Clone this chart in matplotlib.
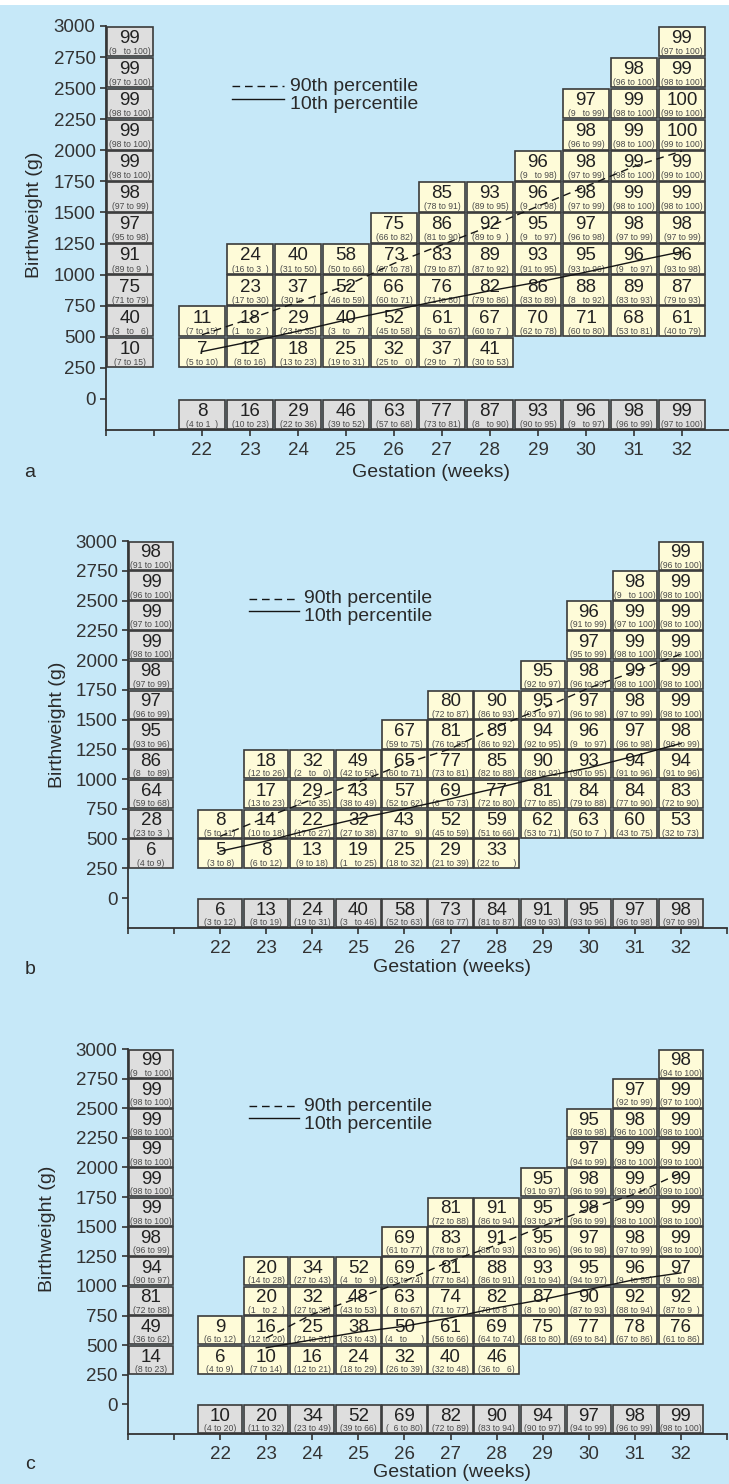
import numpy as np
import matplotlib
matplotlib.use('Agg')
import matplotlib.pyplot as plt
from matplotlib.patches import Rectangle

plt.rcParams.update({
    'font.family': ['Liberation Sans', 'DejaVu Sans'],
    'text.color': '#2a2a2a',
    'axes.edgecolor': '#333333',
    'xtick.color': '#333333',
    'ytick.color': '#333333',
})

# --- Colors ---
BG = '#c6e8f8'
CELL_YELLOW = '#fefbd8'
CELL_GREY = '#dedede'
EDGE = '#3a3a3a'
CI_COLOR = '#4a4a4a'

# --- Shared axes data ---
WEEKS = list(range(22, 33))
BW_ROWS = [250, 500, 750, 1000, 1250, 1500, 1750, 2000, 2250, 2500, 2750]
GRID_START = [250, 250, 250, 250, 250, 250, 250, 500, 500, 500, 500]
Y_TICKS = list(range(0, 3001, 250))

# --- Panel a ---
A_BW_VALS = [10, 40, 75, 91, 97, 98, 99, 99, 99, 99, 99]
A_BW_CI = ['(7 to 15)', '(3   to   6)', '(71 to 79)', '(89 to 9  )', '(95 to 98)', '(97 to 99)',
           '(98 to 100)', '(98 to 100)', '(98 to 100)', '(97 to 100)', '(9   to 100)']
A_GA_VALS = [8, 16, 29, 46, 63, 77, 87, 93, 96, 98, 99]
A_GA_CI = ['(4 to 1  )', '(10 to 23)', '(22 to 36)', '(39 to 52)', '(57 to 68)', '(73 to 81)',
           '(8   to 90)', '(90 to 95)', '(9   to 97)', '(96 to 99)', '(97 to 100)']
A_GRID_VALS = [
    [7, 11],
    [12, 18, 23, 24],
    [18, 29, 37, 40],
    [25, 40, 52, 58],
    [32, 52, 66, 73, 75],
    [37, 61, 76, 83, 86, 85],
    [41, 67, 82, 89, 92, 93],
    [70, 86, 93, 95, 96, 96],
    [71, 88, 95, 97, 98, 98, 98, 97],
    [68, 89, 96, 98, 99, 99, 99, 99, 98],
    [61, 87, 96, 98, 99, 99, 100, 100, 99, 99],
]
A_GRID_CI = [
    ['(5 to 10)', '(7 to 15)'],
    ['(8 to 16)', '(1   to 2  )', '(17 to 30)', '(16 to 3  )'],
    ['(13 to 23)', '(23 to 35)', '(30 to    )', '(31 to 50)'],
    ['(19 to 31)', '(3   to   7)', '(46 to 59)', '(50 to 66)'],
    ['(25 to   0)', '(45 to 58)', '(60 to 71)', '(67 to 78)', '(66 to 82)'],
    ['(29 to   7)', '(5   to 67)', '(71 to 80)', '(79 to 87)', '(81 to 90)', '(78 to 91)'],
    ['(30 to 53)', '(60 to 7  )', '(79 to 86)', '(87 to 92)', '(89 to 9  )', '(89 to 95)'],
    ['(62 to 78)', '(83 to 89)', '(91 to 95)', '(9   to 97)', '(9   to 98)', '(9   to 98)'],
    ['(60 to 80)', '(8   to 92)', '(93 to 96)', '(96 to 98)', '(97 to 99)', '(97 to 99)',
     '(96 to 99)', '(9   to 99)'],
    ['(53 to 81)', '(83 to 93)', '(9   to 97)', '(97 to 99)', '(98 to 100)', '(98 to 100)',
     '(98 to 100)', '(98 to 100)', '(96 to 100)'],
    ['(40 to 79)', '(79 to 93)', '(93 to 98)', '(97 to 99)', '(98 to 100)', '(99 to 100)',
     '(99 to 100)', '(99 to 100)', '(98 to 100)', '(97 to 100)'],
]
A_P10 = [381, 460, 545, 635, 715, 795, 870, 940, 1020, 1105, 1185]
A_P90 = [516, 645, 780, 910, 1090, 1240, 1390, 1550, 1710, 1870, 1995]

# --- Panel b ---
B_BW_VALS = [6, 28, 64, 86, 95, 97, 98, 99, 99, 99, 98]
B_BW_CI = ['(4 to 9)', '(23 to 3  )', '(59 to 68)', '(8   to 89)', '(93 to 96)', '(96 to 99)',
           '(97 to 99)', '(98 to 100)', '(97 to 100)', '(96 to 100)', '(91 to 100)']
B_GA_VALS = [6, 13, 24, 40, 58, 73, 84, 91, 95, 97, 98]
B_GA_CI = ['(3 to 12)', '(8 to 19)', '(19 to 31)', '(3   to 46)', '(52 to 63)', '(68 to 77)',
           '(81 to 87)', '(89 to 93)', '(93 to 96)', '(96 to 98)', '(97 to 99)']
B_GRID_VALS = [
    [5, 8],
    [8, 14, 17, 18],
    [13, 22, 29, 32],
    [19, 32, 43, 49],
    [25, 43, 57, 65, 67],
    [29, 52, 69, 77, 81, 80],
    [33, 59, 77, 85, 89, 90],
    [62, 81, 90, 94, 95, 95],
    [63, 84, 93, 96, 97, 98, 97, 96],
    [60, 84, 94, 97, 98, 99, 99, 99, 98],
    [53, 83, 94, 98, 99, 99, 99, 99, 99, 99],
]
B_GRID_CI = [
    ['(3 to 8)', '(5 to 11)'],
    ['(6 to 12)', '(10 to 18)', '(13 to 23)', '(12 to 26)'],
    ['(9 to 18)', '(17 to 27)', '(2   to 35)', '(2   to   0)'],
    ['(1   to 25)', '(27 to 38)', '(38 to 49)', '(42 to 56)'],
    ['(18 to 32)', '(37 to   9)', '(52 to 62)', '(60 to 71)', '(59 to 75)'],
    ['(21 to 39)', '(45 to 59)', '(6   to 73)', '(73 to 81)', '(76 to 85)', '(72 to 87)'],
    ['(22 to      )', '(51 to 66)', '(72 to 80)', '(82 to 88)', '(86 to 92)', '(86 to 93)'],
    ['(53 to 71)', '(77 to 85)', '(88 to 92)', '(92 to 95)', '(93 to 97)', '(92 to 97)'],
    ['(50 to 7  )', '(79 to 88)', '(90 to 95)', '(9   to 97)', '(96 to 98)', '(96 to 99)',
     '(95 to 99)', '(91 to 99)'],
    ['(43 to 75)', '(77 to 90)', '(91 to 96)', '(96 to 98)', '(97 to 99)', '(98 to 100)',
     '(98 to 100)', '(97 to 100)', '(9   to 100)'],
    ['(32 to 73)', '(72 to 90)', '(91 to 96)', '(96 to 99)', '(98 to 100)', '(98 to 100)',
     '(99 to 100)', '(98 to 100)', '(98 to 100)', '(96 to 100)'],
]
B_P10 = [395, 480, 580, 670, 750, 835, 925, 1020, 1095, 1195, 1300]
B_P90 = [520, 680, 830, 975, 1130, 1255, 1440, 1595, 1765, 1905, 2050]

# --- Panel c ---
C_BW_VALS = [14, 49, 81, 94, 98, 99, 99, 99, 99, 99, 99]
C_BW_CI = ['(8 to 23)', '(36 to 62)', '(72 to 88)', '(90 to 97)', '(96 to 99)', '(98 to 100)',
           '(98 to 100)', '(98 to 100)', '(98 to 100)', '(98 to 100)', '(9   to 100)']
C_GA_VALS = [10, 20, 34, 52, 69, 82, 90, 94, 97, 98, 99]
C_GA_CI = ['(4 to 20)', '(11 to 32)', '(23 to 49)', '(39 to 66)', '(  6 to 80)', '(72 to 89)',
           '(83 to 94)', '(90 to 97)', '(94 to 99)', '(96 to 99)', '(98 to 100)']
C_GRID_VALS = [
    [6, 9],
    [10, 16, 20, 20],
    [16, 25, 32, 34],
    [24, 38, 48, 52],
    [32, 50, 63, 69, 69],
    [40, 61, 74, 81, 83, 81],
    [46, 69, 82, 88, 91, 91],
    [75, 87, 93, 95, 95, 95],
    [77, 90, 95, 97, 98, 98, 97, 95],
    [78, 92, 96, 98, 99, 99, 99, 98, 97],
    [76, 92, 97, 99, 99, 99, 99, 99, 99, 98],
]
C_GRID_CI = [
    ['(4 to 9)', '(6 to 12)'],
    ['(7 to 14)', '(12 to 20)', '(1   to 2  )', '(14 to 28)'],
    ['(12 to 21)', '(21 to 31)', '(27 to 38)', '(27 to 43)'],
    ['(18 to 29)', '(33 to 43)', '(43 to 53)', '(4   to   9)'],
    ['(26 to 39)', '(4   to      )', '(  8 to 67)', '(63 to 74)', '(61 to 77)'],
    ['(32 to 48)', '(56 to 66)', '(71 to 77)', '(77 to 84)', '(78 to 87)', '(72 to 88)'],
    ['(36 to   6)', '(64 to 74)', '(78 to 8  )', '(86 to 91)', '(88 to 93)', '(86 to 94)'],
    ['(68 to 80)', '(8   to 90)', '(91 to 94)', '(93 to 96)', '(93 to 97)', '(91 to 97)'],
    ['(69 to 84)', '(87 to 93)', '(94 to 97)', '(96 to 98)', '(96 to 99)', '(96 to 99)',
     '(94 to 99)', '(89 to 98)'],
    ['(67 to 86)', '(88 to 94)', '(9   to 98)', '(97 to 99)', '(98 to 100)', '(98 to 100)',
     '(98 to 100)', '(96 to 100)', '(92 to 99)'],
    ['(61 to 86)', '(87 to 9  )', '(9   to 98)', '(98 to 100)', '(98 to 100)', '(99 to 100)',
     '(99 to 100)', '(98 to 100)', '(97 to 100)', '(94 to 100)'],
]
C_P10 = [np.nan, 478, 545, 610, 660, 731, 815, 885, 970, 1054, 1110]
C_P90 = [np.nan, 560, 760, 900, 1040, 1210, 1345, 1505, 1650, 1775, 1955]


def draw_cell(ax, x_left, y_low, val, ci, face):
    """One box: big number on top, confidence interval underneath."""
    ax.add_patch(Rectangle((x_left + 0.02, y_low + 6), 0.96, 238,
                           facecolor=face, edgecolor=EDGE, linewidth=1.2, zorder=2))
    ax.text(x_left + 0.5, y_low + 150, str(val), ha='center', va='center',
            fontsize=13.5, color='#222222', zorder=3)
    ax.text(x_left + 0.5, y_low + 45, ci, ha='center', va='center',
            fontsize=6.2, color=CI_COLOR, zorder=3)


def draw_panel(ax, bw_vals, bw_ci, ga_vals, ga_ci, grid_vals, grid_ci, p10, p90,
               letter, ylab_pos, xlab_pos, letter_pos):
    ax.set_facecolor(BG)
    ax.set_xlim(20, 33)
    ax.set_ylim(-250, 3000)

    # birthweight marginal column (left)
    for row, v, c in zip(BW_ROWS, bw_vals, bw_ci):
        draw_cell(ax, 20, row, v, c, CELL_GREY)

    # gestation marginal row (bottom)
    for wk, v, c in zip(WEEKS, ga_vals, ga_ci):
        draw_cell(ax, wk - 0.5, -250, v, c, CELL_GREY)

    # main grid
    for wk, start, vals, cis in zip(WEEKS, GRID_START, grid_vals, grid_ci):
        for i, (v, c) in enumerate(zip(vals, cis)):
            draw_cell(ax, wk - 0.5, start + 250 * i, v, c, CELL_YELLOW)

    # percentile lines
    ax.plot(WEEKS, p90, color='#151515', lw=1.0, ls=(0, (5.5, 3.5)), zorder=5)
    ax.plot(WEEKS, p10, color='#151515', lw=1.0, zorder=5)

    # legend
    ax.plot([22.63, 23.71], [2515, 2515], color='#151515', lw=1.0, ls=(0, (5.5, 3.5)))
    ax.plot([22.63, 23.71], [2415, 2415], color='#151515', lw=1.0)
    ax.text(23.83, 2515, '90th percentile', fontsize=14, va='center', ha='left')
    ax.text(23.83, 2365, '10th percentile', fontsize=14, va='center', ha='left')

    # axes styling
    for side in ['top', 'right']:
        ax.spines[side].set_visible(False)
    ax.spines['left'].set_linewidth(1.3)
    ax.spines['bottom'].set_linewidth(1.3)
    ax.set_yticks(Y_TICKS)
    ax.set_yticklabels([str(t) for t in Y_TICKS])
    ax.set_xticks(list(range(20, 34)))
    ax.set_xticklabels(['', ''] + [str(w) for w in WEEKS] + [''])
    ax.tick_params(axis='both', direction='out', length=4.5, width=1.2, labelsize=13.5)
    ax.tick_params(axis='y', pad=3)
    ax.tick_params(axis='x', pad=4)

    ax.text(ylab_pos[0], ylab_pos[1], 'Birthweight (g)', transform=ax.transAxes,
            rotation=90, fontsize=14, ha='center', va='center')
    ax.text(xlab_pos[0], xlab_pos[1], 'Gestation (weeks)', transform=ax.transAxes,
            fontsize=14, ha='center', va='center')
    ax.text(letter_pos[0], letter_pos[1], letter, transform=ax.transAxes, fontsize=14,
            ha='center', va='center')


fig = plt.figure(figsize=(7.29, 14.84), dpi=100)
fig.patch.set_facecolor(BG)
# white strip from the page above
fig.patches.append(Rectangle((0, 1 - 5 / 1484), 1, 5 / 1484, transform=fig.transFigure,
                             facecolor='white', edgecolor='none', zorder=0))

ax_a = fig.add_axes([106 / 729, 1 - 430 / 1484, 624 / 729, 404 / 1484])
ax_b = fig.add_axes([128 / 729, 1 - 928 / 1484, 599 / 729, 387 / 1484])
ax_c = fig.add_axes([128 / 729, 1 - 1434 / 1484, 599 / 729, 385 / 1484])

draw_panel(ax_a, A_BW_VALS, A_BW_CI, A_GA_VALS, A_GA_CI, A_GRID_VALS, A_GRID_CI,
           A_P10, A_P90, 'a', (-0.114, 0.532), (0.521, -0.106), (-0.122, -0.106))
draw_panel(ax_b, B_BW_VALS, B_BW_CI, B_GA_VALS, B_GA_CI, B_GRID_VALS, B_GRID_CI,
           B_P10, B_P90, 'b', (-0.1185, 0.525), (0.541, -0.103), (-0.164, -0.108))
draw_panel(ax_c, C_BW_VALS, C_BW_CI, C_GA_VALS, C_GA_CI, C_GRID_VALS, C_GRID_CI,
           C_P10, C_P90, 'c', (-0.134, 0.532), (0.541, -0.101), (-0.164, -0.080))

fig.savefig('out.png', dpi=100, facecolor=fig.get_facecolor())
